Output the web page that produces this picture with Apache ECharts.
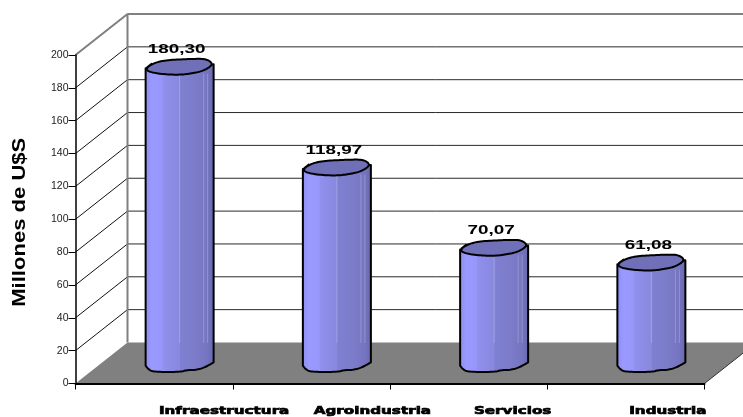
<!DOCTYPE html>
<html>
<head>
<meta charset="utf-8">
<style>html,body{margin:0;padding:0;background:#fff}#chart{width:743px;height:417px}</style>
<script src="https://cdn.jsdelivr.net/npm/echarts@6/dist/echarts.min.js"></script>
</head>
<body>
<div id="chart"></div>
<script>
// Investment by sector, in millions of US dollars
const categories = ['Infraestructura', 'Agroindustria', 'Servicios', 'Industria'];
const values = [180.30, 118.97, 70.07, 61.08];
const tickValues = [0, 20, 40, 60, 80, 100, 120, 140, 160, 180, 200];
const axisTitle = 'Millones de U$S';

// Pseudo-3D box: how far the back wall sits from the front plane, in pixels
const DEPTH_X = 52;
const DEPTH_Y = -41;
// Horizontal nudge of each category caption from the centre of its band
const captionShift = [70, 61, 44, 42];

// Irregular column outline, in pixels around the column's axis
const capOutline = [[-34,1.5],[-28,-3],[-16,-6.5],[2,-7.5],[14,-8],[27,-8],[34,-2.5],[24,4],[12,6.5],[1,8],[-16,7.5],[-31,5]];
const baseOutline = [[-34,2.7],[-31,7],[-24,9],[1,9],[7,7],[17,7],[27,3.7],[34,-0.7]];

// Smooths a list of points with quadratic segments through their midpoints
function smoothOpen(pts) {
  const out = [pts[0]];
  for (let i = 1; i < pts.length - 1; i++) {
    const a = i === 1 ? pts[0] : [(pts[i-1][0]+pts[i][0])/2, (pts[i-1][1]+pts[i][1])/2];
    const c = i === pts.length - 2 ? pts[i+1] : [(pts[i][0]+pts[i+1][0])/2, (pts[i][1]+pts[i+1][1])/2];
    for (let t = 0.125; t <= 1; t += 0.125) {
      const u = 1 - t;
      out.push([u*u*a[0]+2*u*t*pts[i][0]+t*t*c[0], u*u*a[1]+2*u*t*pts[i][1]+t*t*c[1]]);
    }
  }
  return out;
}
function smoothClosed(pts) {
  const n = pts.length;
  const wrapped = [];
  for (let i = 0; i <= n + 1; i++) wrapped.push(pts[i % n]);
  return smoothOpen(wrapped).slice(1);
}

function renderWalls(params, api) {
  const left = params.coordSys.x;
  const right = left + params.coordSys.width;
  const bottom = api.coord([0, 0])[1];
  const line = (x1, y1, x2, y2, stroke, w) => ({
    type: 'line', shape: {x1, y1, x2, y2}, style: {stroke, lineWidth: w}, silent: true
  });
  const children = [{
    type: 'polygon',
    shape: {points: [[left, bottom], [right, bottom], [right + DEPTH_X, bottom + DEPTH_Y], [left + DEPTH_X, bottom + DEPTH_Y]]},
    style: {fill: '#808080'}
  }];
  tickValues.forEach(v => {
    const y = api.coord([0, v])[1];
    if (v > 0) {
      children.push(line(left, y, left + DEPTH_X, y + DEPTH_Y, '#111', 1));
    }
    if (v > 0 && v < 200) {
      children.push(line(left + DEPTH_X, y + DEPTH_Y, right + DEPTH_X, y + DEPTH_Y, '#2a2a2a', 1));
    }
  });
  const top = api.coord([0, 200])[1];
  children.push(line(left, top, left + DEPTH_X, top + DEPTH_Y, '#808080', 2));
  children.push(line(left + DEPTH_X, top + DEPTH_Y, right + DEPTH_X, top + DEPTH_Y, '#808080', 2));
  children.push(line(left + DEPTH_X, top + DEPTH_Y, left + DEPTH_X, bottom + DEPTH_Y, '#808080', 2));
  children.push(line(right, bottom, right + DEPTH_X, bottom + DEPTH_Y, '#333', 1));
  children.push({
    type: 'text', x: 20, y: (top + bottom) / 2 + 3, rotation: Math.PI / 2, scaleX: 1.16,
    style: {text: axisTitle, align: 'center', verticalAlign: 'middle', fill: '#000', font: 'bold 19px "Liberation Sans"'}
  });
  return {type: 'group', children};
}

function renderColumn(params, api) {
  const i = api.value(0);
  const val = api.value(1);
  const foot = api.coord([i, 0]);
  const head = api.coord([i, val]);
  const cx = foot[0] + DEPTH_X / 2 - 0.5;
  const baseY = foot[1] + DEPTH_Y / 2;
  const topY = head[1] + DEPTH_Y / 2;
  const cap = smoothClosed(capOutline).map(p => [cx + p[0], topY + p[1]]);
  const base = smoothOpen(baseOutline).map(p => [cx + p[0], baseY + p[1]]);
  const body = [[cx - 34, topY + 1.5]].concat(base).concat([[cx + 34, topY - 2.5]]);
  const shade = {
    type: 'linear', x: 0, y: 0, x2: 1, y2: 0,
    colorStops: [
      {offset: 0, color: '#8e8eee'}, {offset: 0.1, color: '#9999ff'},
      {offset: 0.25, color: '#9797fb'}, {offset: 0.26, color: '#9090ee'},
      {offset: 0.5, color: '#8888de'}, {offset: 0.51, color: '#8080d2'},
      {offset: 0.75, color: '#7b7bc9'}, {offset: 0.9, color: '#7474c0'},
      {offset: 1, color: '#6868aa'}
    ]
  };
  const streakEnd = baseY - 20;
  const streak = (dx) => ({
    type: 'line',
    shape: {x1: cx + dx, y1: topY + 7, x2: cx + dx, y2: streakEnd},
    style: {stroke: 'rgba(255,255,255,0.22)', lineWidth: 1}
  });
  const label = values[i].toFixed(2).replace('.', ',');
  return {
    type: 'group',
    children: [
      {type: 'polygon', shape: {points: body}, style: {fill: shade, stroke: '#000', lineWidth: 2, lineJoin: 'round'}},
      streak(0), streak(24), streak(28),
      {type: 'polygon', shape: {points: cap}, style: {fill: '#7070b8', stroke: '#000', lineWidth: 2, lineJoin: 'round'}},
      {
        type: 'text', x: cx - 3, y: topY - 17.5, scaleX: 1.45, scaleY: 1,
        style: {text: label, align: 'center', verticalAlign: 'middle', fill: '#000', font: 'bold 13px "Liberation Sans"'}
      }
    ]
  };
}

function renderCaption(params, api) {
  const i = api.value(0);
  const at = api.coord([i, 0]);
  return {
    type: 'text', x: at[0] + captionShift[i], y: 411, scaleX: 1.38, scaleY: 0.95,
    style: {text: categories[i], align: 'center', verticalAlign: 'middle', fill: '#000', stroke: '#000', lineWidth: 0.7, font: 'bold 11px "DejaVu Sans"'}
  };
}

const chart = echarts.init(document.getElementById('chart'), null, {renderer: 'canvas'});
chart.setOption({
  animation: false,
  backgroundColor: '#fff',
  grid: {left: 75.5, top: 55, width: 629, height: 328.5, outerBoundsMode: 'none', containLabel: false},
  xAxis: {
    type: 'category', data: categories,
    axisLine: {show: true, onZero: false, lineStyle: {color: '#000', width: 2}},
    axisTick: {show: true, alignWithLabel: false, length: 6, lineStyle: {color: '#000', width: 1}},
    axisLabel: {show: false},
    splitLine: {show: false},
    z: 5
  },
  yAxis: {
    type: 'value', min: 0, max: 200, interval: 20,
    axisLine: {show: true, lineStyle: {color: '#000', width: 1.5}},
    axisTick: {show: true, length: 7, lineStyle: {color: '#000', width: 1}},
    axisLabel: {fontFamily: 'Liberation Sans', fontSize: 10.5, color: '#222', margin: 7, padding: [4, 0, 0, 0]},
    splitLine: {show: false},
    z: 5
  },
  series: [
    {type: 'custom', name: 'walls', coordinateSystem: 'cartesian2d', clip: false, silent: true, z: 1,
     renderItem: renderWalls, data: [[0, 0]]},
    {type: 'custom', name: 'columns', coordinateSystem: 'cartesian2d', clip: false, z: 3,
     renderItem: renderColumn, data: values.map((v, i) => [i, v])},
    {type: 'custom', name: 'captions', coordinateSystem: 'cartesian2d', clip: false, silent: true, z: 4,
     renderItem: renderCaption, data: categories.map((c, i) => [i, 0])}
  ]
});
</script>
</body>
</html>
